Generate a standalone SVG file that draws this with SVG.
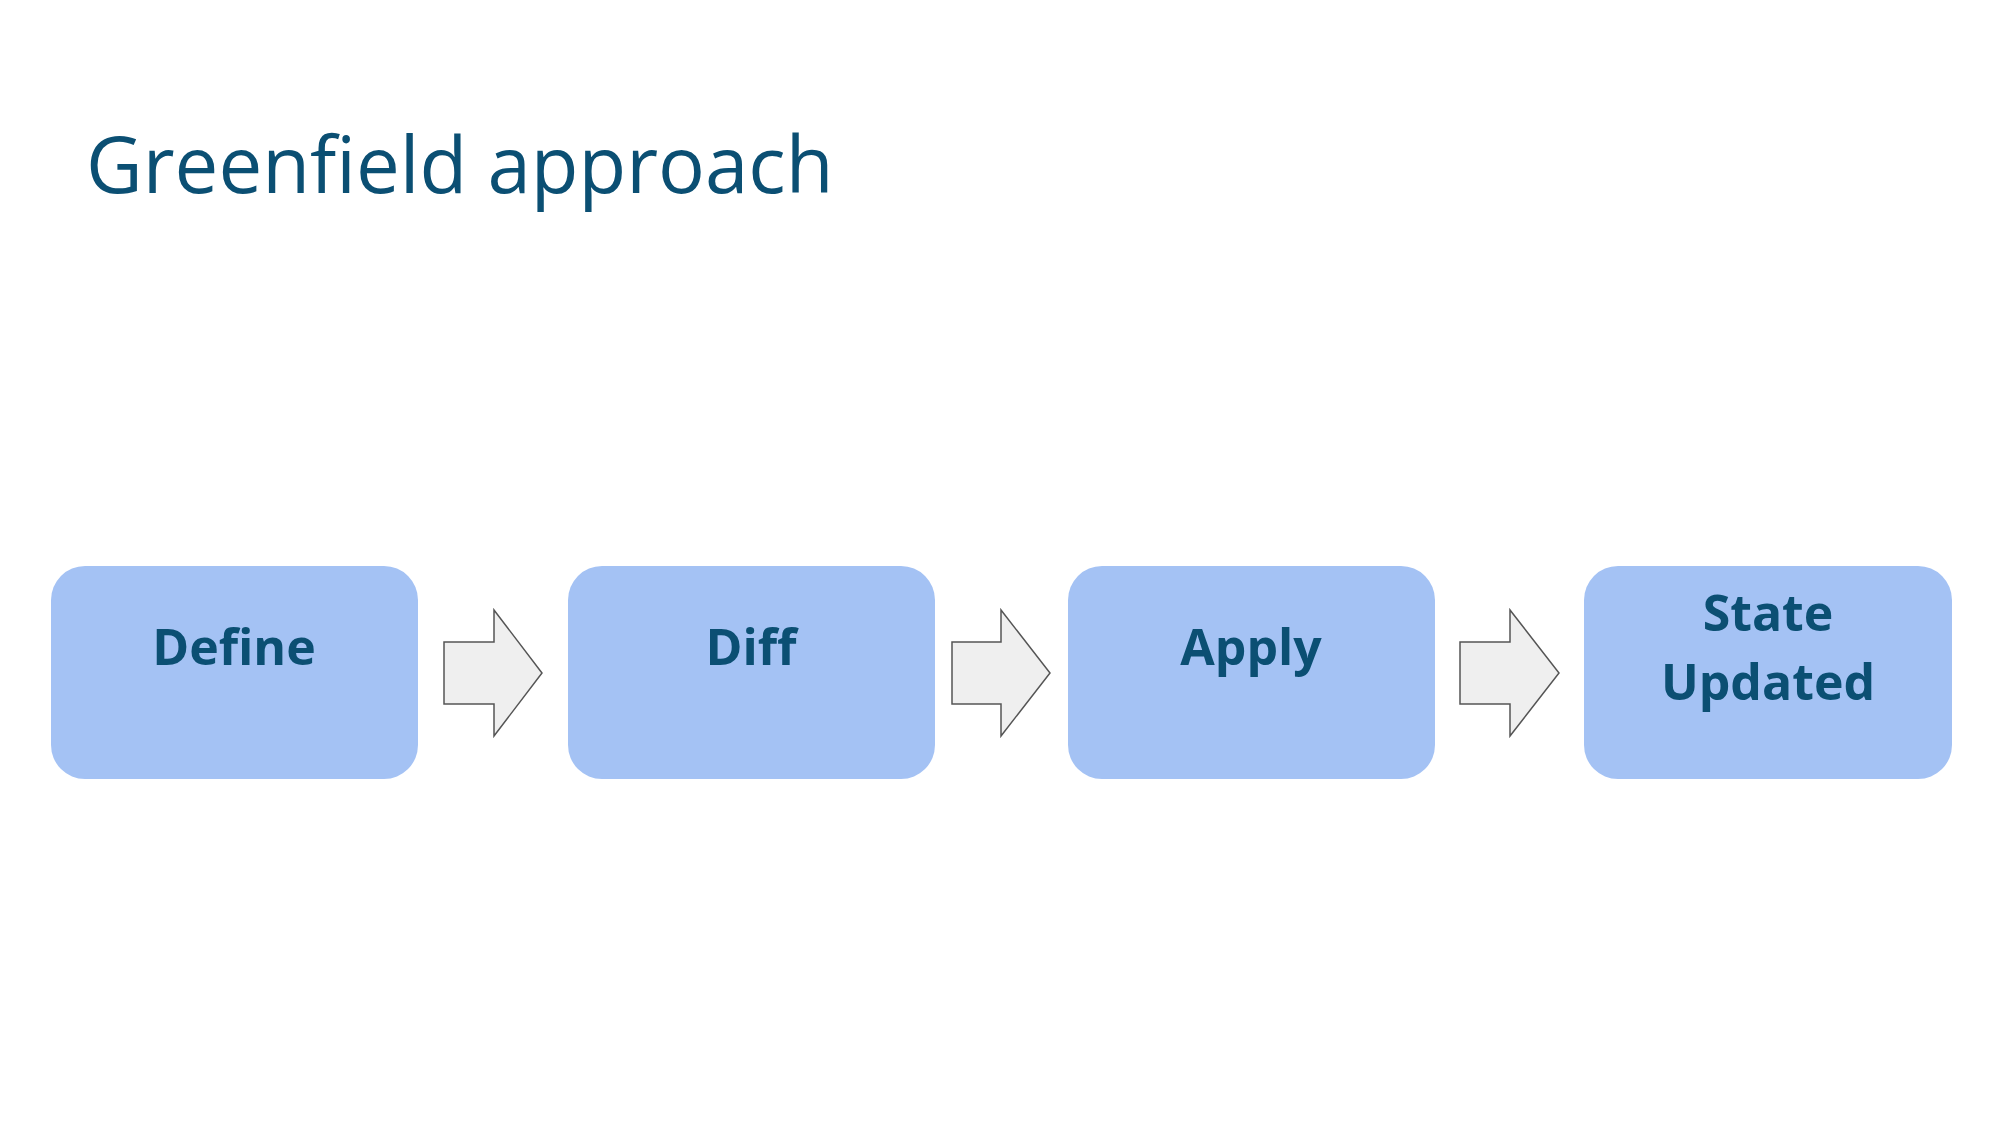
<svg xmlns="http://www.w3.org/2000/svg" width="2000" height="1125" viewBox="0 0 2000 1125">
<style>
.box{fill:#a4c2f4}
.lbl{font-family:"Open Sans","Noto Sans",sans-serif;font-weight:bold;font-size:50px;fill:#0b4f73;text-anchor:middle}
.arr{fill:#efefef;stroke:#555;stroke-width:1.5}
</style>
<rect width="2000" height="1125" fill="#fff"/>
<text x="86" y="193" font-family="'Open Sans','Noto Sans',sans-serif" font-size="78" fill="#0b4f73">Greenfield approach</text>
<g id="define"><rect class="box" x="51" y="566" width="367" height="213" rx="34"/><text class="lbl" x="234" y="665">Define</text></g>
<g id="diff"><rect class="box" x="568" y="566" width="367" height="213" rx="34"/><text class="lbl" x="751" y="665">Diff</text></g>
<g id="apply"><rect class="box" x="1068" y="566" width="367" height="213" rx="34"/><text class="lbl" x="1251" y="665">Apply</text></g>
<g id="state"><rect class="box" x="1584" y="566" width="368" height="213" rx="34"/><text class="lbl" x="1768" y="631">State</text><text class="lbl" x="1768" y="700">Updated</text></g>
<g id="connectors">
<path class="arr" d="M444,642 H494 V610 L542,673 L494,736 V704 H444 Z"/>
<path class="arr" d="M952,642 H1001 V610 L1050,673 L1001,736 V704 H952 Z"/>
<path class="arr" d="M1460,642 H1510 V610 L1559,673 L1510,736 V704 H1460 Z"/>
</g>
</svg>
